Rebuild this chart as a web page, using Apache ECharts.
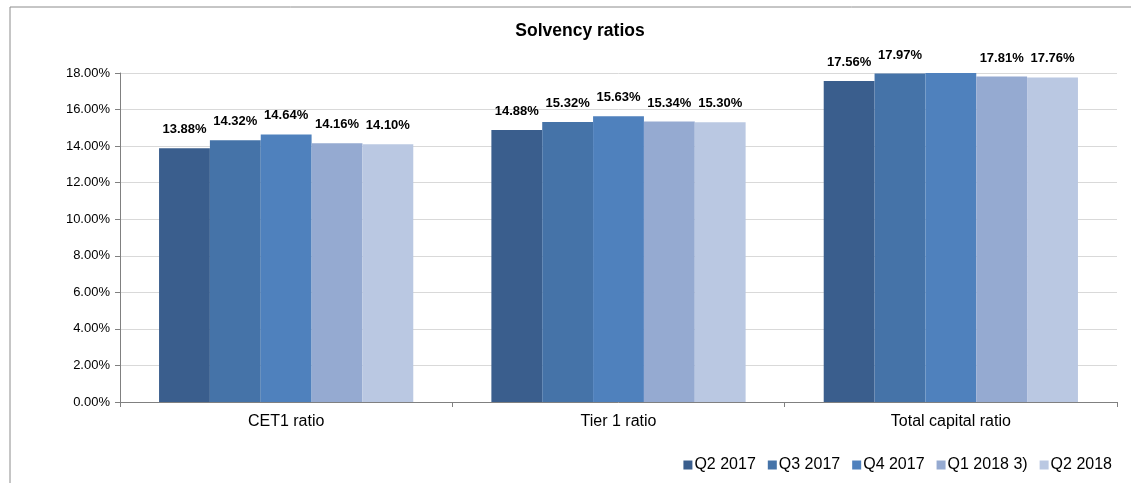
<!DOCTYPE html>
<html><head><meta charset="utf-8">
<script src="https://cdn.jsdelivr.net/npm/echarts@6/dist/echarts.min.js"></script>
<style>html,body{margin:0;padding:0;background:#fff}#c{width:1131px;height:483px}</style>
</head><body><div id="c"></div>
<script>
var categories = ['CET1 ratio', 'Tier 1 ratio', 'Total capital ratio'];
var seriesNames = ['Q2 2017', 'Q3 2017', 'Q4 2017', 'Q1 2018 3)', 'Q2 2018'];
var q2_2017 = [13.88, 14.88, 17.56];
var q3_2017 = [14.32, 15.32, 17.97];
var q4_2017 = [14.64, 15.63, 18.00];
var q1_2018 = [14.16, 15.34, 17.81];
var q2_2018 = [14.10, 15.30, 17.76];
var hiddenLabels = [[], [], [2], [], []];
var colors = ['#3A5E8D', '#4573A8', '#4F81BD', '#95AAD1', '#BAC8E2'];
var yTicks = [0, 2, 4, 6, 8, 10, 12, 14, 16, 18];

var allData = [q2_2017, q3_2017, q4_2017, q1_2018, q2_2018];
var chart = echarts.init(document.getElementById('c'));
var font = 'Liberation Sans, Arial, sans-serif';
chart.setOption({
  animation: false,
  textStyle: { fontFamily: font },
  graphic: [{ type: 'rect', shape: { x: 10, y: 7, width: 1200, height: 600 },
    style: { fill: 'none', stroke: '#8c8c8c', lineWidth: 1 }, silent: true }],
  title: { text: 'Solvency ratios', left: 575, top: 17, textAlign: 'center',
    textStyle: { fontSize: 17.5, fontWeight: 'bold', color: '#000', fontFamily: font } },
  legend: { right: 14, top: 452, itemWidth: 9, itemHeight: 9, itemGap: 12, icon: 'rect',
    textStyle: { fontSize: 16, color: '#000', padding: [0, 0, 0, -3] }, data: seriesNames },
  grid: { left: 120, right: 14, top: 73, bottom: 81, containLabel: false },
  xAxis: { type: 'category', data: categories,
    axisLine: { lineStyle: { color: '#808080' } },
    axisTick: { show: true, length: 5, lineStyle: { color: '#808080' } },
    axisLabel: { fontSize: 16, color: '#000', margin: 12 } },
  yAxis: { type: 'value', min: yTicks[0], max: yTicks[yTicks.length - 1], interval: 2,
    axisLine: { show: true, lineStyle: { color: '#808080' } },
    axisTick: { show: true, inside: false, length: 5, lineStyle: { color: '#808080' } },
    splitLine: { lineStyle: { color: '#d9d9d9' } },
    axisLabel: { fontSize: 13, color: '#000', margin: 10, formatter: function (v) { return v.toFixed(2) + '%'; } } },
  series: seriesNames.map(function (n, i) {
    return {
      name: n, type: 'bar', barGap: '0%', barCategoryGap: '23.5%',
      itemStyle: { color: colors[i] },
      label: { show: true, position: 'top', distance: 12, fontSize: 13, fontWeight: 'bold', color: '#000',
        formatter: function (p) { return p.value.toFixed(2) + '%'; } },
      data: allData[i].map(function (v, j) {
        return hiddenLabels[i].indexOf(j) >= 0 ? { value: v, label: { show: false } } : v;
      })
    };
  })
});
</script></body></html>
